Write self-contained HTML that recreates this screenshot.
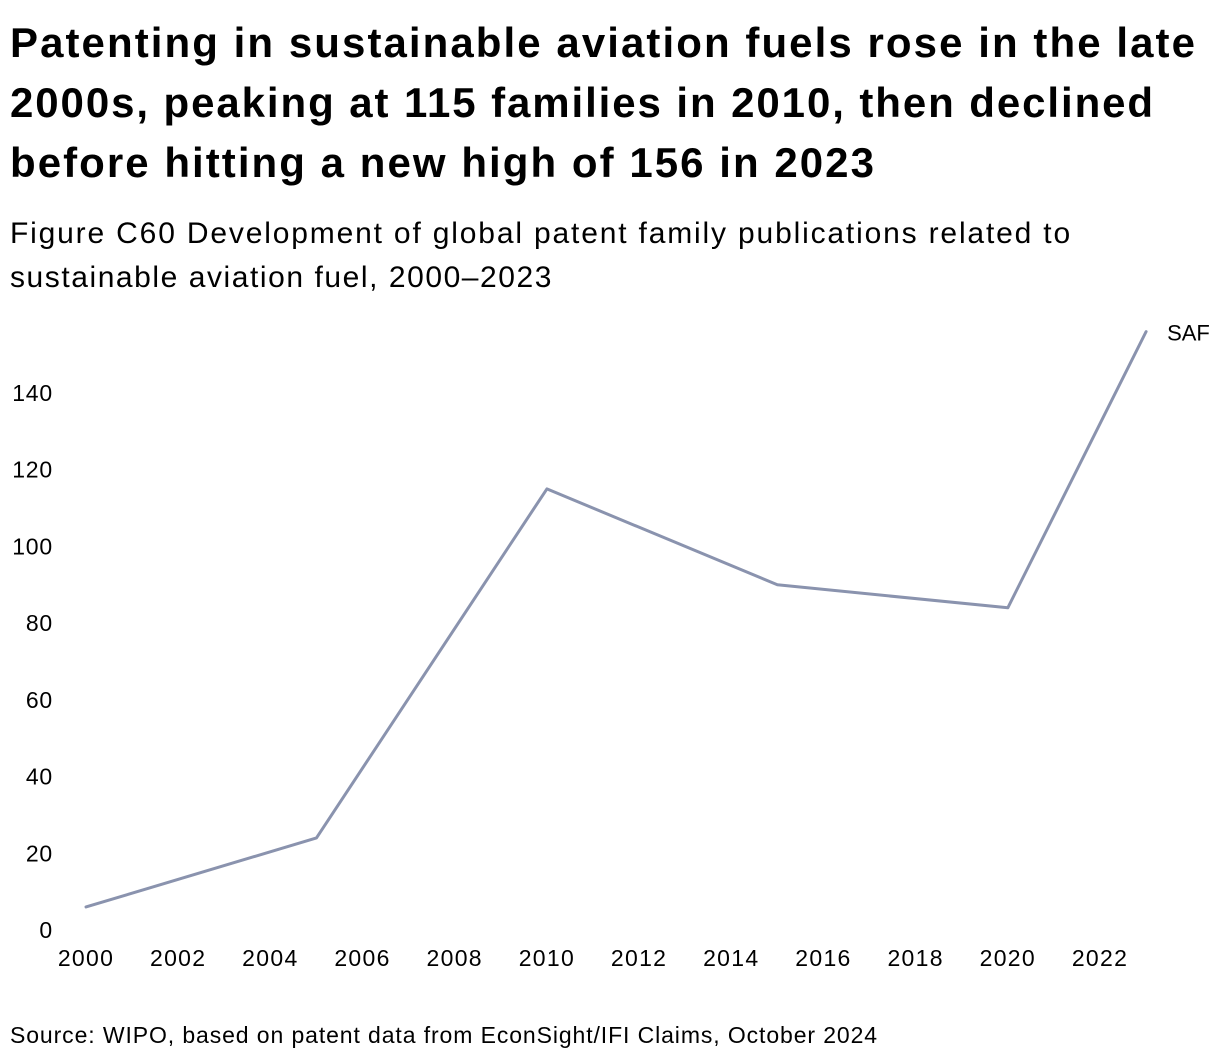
<!DOCTYPE html>
<html><head><meta charset="utf-8">
<style>
html,body{margin:0;padding:0;background:#fff;}
body{width:1220px;height:1062px;position:relative;overflow:hidden;font-family:"Liberation Sans",sans-serif;color:#000;}
.t{position:absolute;left:10px;white-space:nowrap;}
.title{font-size:42px;font-weight:bold;}
.sub{font-size:30px;}
.src{font-size:23px;}
svg{position:absolute;left:0;top:0;}
</style></head><body>
<div>
<span class="t title fit" data-w="1187" style="top:19px">Patenting in sustainable aviation fuels rose in the late</span>
<span class="t title fit" data-w="1145" style="top:79px">2000s, peaking at 115 families in 2010, then declined</span>
<span class="t title fit" data-w="866" style="top:139px">before hitting a new high of 156 in 2023</span>
</div>
<div>
<span class="t sub fit" data-w="1062" style="top:217px">Figure C60 Development of global patent family publications related to</span>
<span class="t sub fit" data-w="543" style="top:261px">sustainable aviation fuel, 2000–2023</span>
</div>
<svg id="chart" width="1220" height="1062"></svg>
<span class="t src fit" data-w="868" style="top:1022px">Source: WIPO, based on patent data from EconSight/IFI Claims, October 2024</span>
<script>
const years = [2000, 2005, 2010, 2015, 2020, 2023];
const values = [6, 24, 115, 90, 84, 156];
const yTicks = [0, 20, 40, 60, 80, 100, 120, 140];
const xTicks = [2000, 2002, 2004, 2006, 2008, 2010, 2012, 2014, 2016, 2018, 2020, 2022];
const seriesName = "SAF";

document.querySelectorAll('.fit').forEach(el => {
  const w = el.getBoundingClientRect().width;
  const n = el.textContent.length;
  el.style.letterSpacing = ((+el.dataset.w - w) / n) + 'px';
});

const svg = document.getElementById('chart');
const NS = 'http://www.w3.org/2000/svg';
const x = v => 86 + (v - 2000) * (1100 - 86) / 22;
const y = v => 930 - v * (930 - 393) / 140;

yTicks.forEach(t => {
  const el = document.createElementNS(NS, 'text');
  
  
  el.setAttribute('x', 53);
  el.setAttribute('y', y(t) + 8);
  el.setAttribute('text-anchor', 'end');
  el.setAttribute('font-size', '23');
  el.setAttribute('letter-spacing', '0.8');
  el.setAttribute('font-family', 'Liberation Sans, sans-serif');
  el.textContent = t;
  svg.appendChild(el);
});
xTicks.forEach(t => {
  const el = document.createElementNS(NS, 'text');
  
  
  el.setAttribute('x', x(t));
  el.setAttribute('y', 966);
  el.setAttribute('text-anchor', 'middle');
  el.setAttribute('font-size', '23');
  el.setAttribute('letter-spacing', '1.3');
  el.setAttribute('font-family', 'Liberation Sans, sans-serif');
  el.textContent = t;
  svg.appendChild(el);
});
const pts = years.map((yr, i) => x(yr) + ',' + y(values[i])).join(' ');
const line = document.createElementNS(NS, 'polyline');


line.setAttribute('points', pts);
line.setAttribute('fill', 'none');
line.setAttribute('stroke', '#8a93ae');
line.setAttribute('stroke-width', '3');
line.setAttribute('stroke-linejoin', 'round');
line.setAttribute('stroke-linecap', 'round');
svg.appendChild(line);
const lbl = document.createElementNS(NS, 'text');


lbl.setAttribute('x', x(years[years.length - 1]) + 21);
lbl.setAttribute('y', y(values[values.length - 1]) + 9);
lbl.setAttribute('font-size', '22');
lbl.setAttribute('font-family', 'Liberation Sans, sans-serif');
lbl.textContent = seriesName;
svg.appendChild(lbl);
</script>
</body></html>
